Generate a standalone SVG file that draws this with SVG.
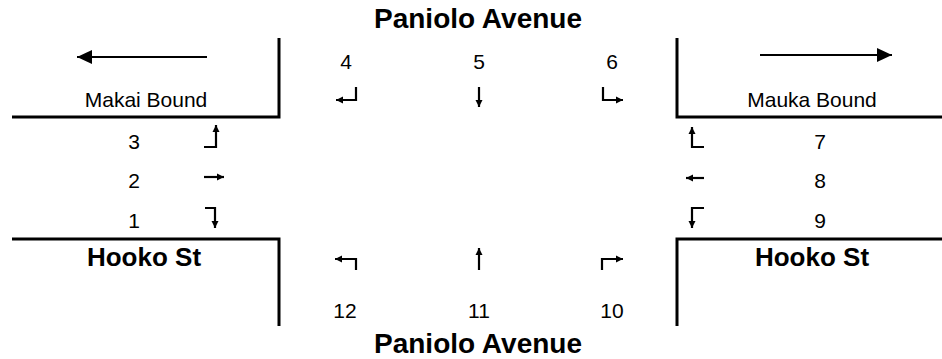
<svg xmlns="http://www.w3.org/2000/svg" width="942" height="359" viewBox="0 0 942 359">
<style>
.road{stroke:#000;stroke-width:3;fill:none}
.big{stroke:#000;stroke-width:2;fill:none}
.sm{stroke:#000;stroke-width:2.2;fill:none;marker-end:url(#ah)}
.title{font-family:"Liberation Sans",Arial,sans-serif;font-weight:bold;font-size:28px;text-anchor:middle;fill:#000}
.st{font-family:"Liberation Sans",Arial,sans-serif;font-weight:bold;font-size:26px;text-anchor:middle;fill:#000}
.lbl{font-family:"Liberation Sans",Arial,sans-serif;font-size:21px;text-anchor:middle;fill:#000}
.num{font-family:"Liberation Sans",Arial,sans-serif;font-size:21px;text-anchor:middle;fill:#000}
</style>
<defs>
<marker id="ah" markerUnits="userSpaceOnUse" markerWidth="8" markerHeight="8" viewBox="0 0 8 8" refX="7" refY="4" orient="auto"><path d="M0,0.5 L7,4 L0,7.5 Z" fill="#000"/></marker>
<marker id="bh" markerUnits="userSpaceOnUse" markerWidth="16" markerHeight="14" viewBox="0 0 16 14" refX="15" refY="7" orient="auto"><path d="M0,0 L15,7 L0,14 Z" fill="#000"/></marker>
</defs>
<rect width="942" height="359" fill="#fff"/>
<g id="roads">
<path class="road" d="M12,117 H279 V38"/>
<path class="road" d="M677,38 V117 H942"/>
<path class="road" d="M12,239 H279 V326"/>
<path class="road" d="M677,326 V239 H942"/>
</g>
<g id="labels">
<text class="title" x="478" y="28">Paniolo Avenue</text>
<text class="title" x="478" y="353">Paniolo Avenue</text>
<text class="lbl" x="146" y="107">Makai Bound</text>
<text class="lbl" x="812" y="107">Mauka Bound</text>
<text class="st" x="144" y="266">Hooko St</text>
<text class="st" x="812" y="266">Hooko St</text>
</g>
<g id="numbers">
<text class="num" x="346" y="69">4</text>
<text class="num" x="479" y="69">5</text>
<text class="num" x="612" y="69">6</text>
<text class="num" x="134" y="149">3</text>
<text class="num" x="134" y="188">2</text>
<text class="num" x="134" y="228">1</text>
<text class="num" x="820" y="149">7</text>
<text class="num" x="820" y="188">8</text>
<text class="num" x="820" y="228">9</text>
<text class="num" x="345" y="318">12</text>
<text class="num" x="479" y="318">11</text>
<text class="num" x="612" y="318">10</text>
</g>
<g id="connectors">
<line class="big" x1="207" y1="57" x2="77" y2="57" marker-end="url(#bh)"/>
<line class="big" x1="760" y1="55" x2="892" y2="55" marker-end="url(#bh)"/>
<path class="sm" d="M356,87 V100 H336"/>
<path class="sm" d="M479,87 V107"/>
<path class="sm" d="M603,87 V100 H623"/>
<path class="sm" d="M204,147 H216 V125"/>
<path class="sm" d="M204,177 H224"/>
<path class="sm" d="M205,208 H215 V228"/>
<path class="sm" d="M704,147 H692 V127"/>
<path class="sm" d="M704,178 H686"/>
<path class="sm" d="M704,208 H692 V228"/>
<path class="sm" d="M356,270 V259 H335"/>
<path class="sm" d="M479,270 V248"/>
<path class="sm" d="M602,270 V259 H623"/>
</g>
</svg>
